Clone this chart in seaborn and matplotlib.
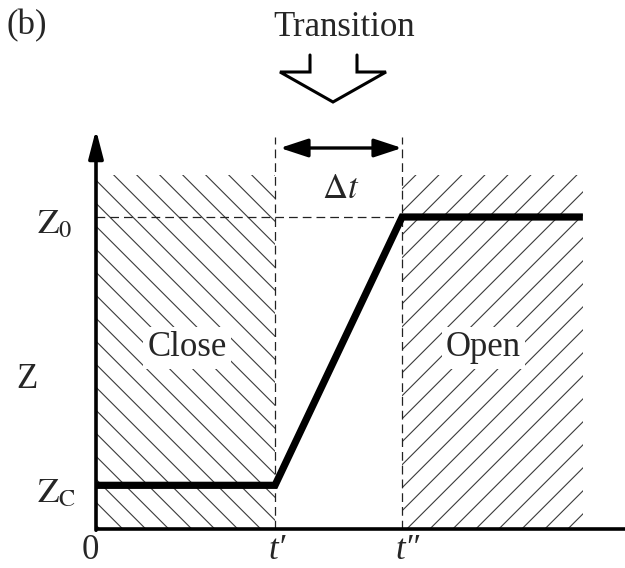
import numpy as np
import pandas as pd
import matplotlib
matplotlib.use("Agg")
import matplotlib.pyplot as plt
from matplotlib.patches import Rectangle
import seaborn as sns

# Switching profile: Z stays at the closed level Z_C until t', rises linearly
# during the transition window and holds at the open level Z_0 after t''.
t_points = [0.0, 1.0, 1.71, 2.72]        # 0, t', t'', end of record (units of t')
z_points = [0.14, 0.14, 1.0, 1.0]        # Z_C, Z_C, Z_0, Z_0 (units of Z_0)
t_labels = ["0", "t\u2032", "t\u2033"]
z_labels = [r"$\mathrm{Z}_0$", r"$\mathrm{Z}_\mathrm{C}$"]
region_labels = ["Close", "Open"]

T_PRIME, T_DPRIME, T_END = t_points[1], t_points[2], t_points[3]
Z_C, Z_0 = z_points[0], z_points[2]

# axis / hatch extents
T_AXIS_END = 2.96
Z_AXIS_END = 1.28
HATCH_TOP = 1.135

# pixel scale of one data unit (for 45-degree hatching and the figure layout)
SX, SY = 179.0, 312.0
W, H = 625, 568
X0_PX, Y0_PX = 96, 529

sns.set_theme(style="white")
plt.rcParams["font.family"] = ["Liberation Serif", "DejaVu Serif"]
plt.rcParams["mathtext.fontset"] = "stix"

fig = plt.figure(figsize=(W / 100, H / 100), dpi=100)
ax = fig.add_axes([0, 0, 1, 1])
ax.set_xlim(-X0_PX / SX, (W - X0_PX) / SX)
ax.set_ylim(-(H - Y0_PX) / SY, Y0_PX / SY)
ax.axis("off")


def px(x, y):
    """Figure pixel position (origin top-left) -> data coordinates."""
    return (x - X0_PX) / SX, (Y0_PX - y) / SY


def hatch(x0, x1, y0, y1, direction, spacing=23.0, phase=0.0):
    """Fill a rectangle with thin 45-degree lines, clipped to the rectangle."""
    rect = Rectangle((x0, y0), x1 - x0, y1 - y0, transform=ax.transData,
                     fill=False, lw=0)
    ax.add_patch(rect)
    u0, u1, v0, v1 = x0 * SX, x1 * SX, y0 * SY, y1 * SY
    span = (u1 - u0) + (v1 - v0)
    cs = np.arange(-span * 2, span * 2, spacing) + phase
    for c in cs:
        u = np.array([u0 - span, u1 + span])
        v = c - u if direction == "down" else c + u
        ln, = ax.plot(u / SX, v / SY, color="#3a3a3a", lw=0.8, zorder=1)
        ln.set_clip_path(rect)


hatch(0.0, T_PRIME, 0.0, HATCH_TOP, "down", phase=12)
hatch(T_DPRIME, T_END, 0.0, HATCH_TOP, "up", phase=0)

# dashed guides
dash = dict(color="#222222", lw=0.9, dashes=(7, 4), zorder=2)
ax.plot([T_PRIME, T_PRIME], [0, 1.256], **dash)
ax.plot([T_DPRIME, T_DPRIME], [0, 1.256], **dash)
ax.plot([0, T_DPRIME], [Z_0, Z_0], **dash)

# Z(t) profile
df = pd.DataFrame({"t": t_points, "Z": z_points})
sns.lineplot(data=df, x="t", y="Z", sort=False, color="black", lw=5.2,
             ax=ax, zorder=4, solid_joinstyle="miter", solid_capstyle="butt")

# axes
ax.plot([0, T_AXIS_END], [0, 0], color="black", lw=2.6, zorder=5,
        solid_capstyle="butt", clip_on=False)
ax.annotate("", xy=(0, Z_AXIS_END), xytext=(0, -0.004),
            arrowprops=dict(arrowstyle="-|>,head_length=0.85,head_width=0.22",
                            lw=2.6, color="black", shrinkA=0, shrinkB=0,
                            mutation_scale=20), zorder=5)

# transition window arrow
ya = px(0, 148)[1]
ax.annotate("", xy=(px(280, 0)[0], ya), xytext=(px(402, 0)[0], ya),
            arrowprops=dict(arrowstyle="<|-|>,head_length=0.85,head_width=0.28",
                            lw=2.4, color="black", shrinkA=0, shrinkB=0,
                            mutation_scale=20))

# hollow "Transition" arrow outline
outline = [(310, 55), (310, 72), (280, 72), (333, 102),
           (386, 72), (357, 72), (357, 55)]
ox, oy = zip(*[px(x, y) for x, y in outline])
ax.plot(ox, oy, color="black", lw=2.2, solid_joinstyle="miter",
        clip_on=False)

fs = 25
ax.text(*px(27, 26), "(b)", fontsize=fs, ha="center", va="center")
ax.text(*px(344, 28), "Transition", fontsize=fs, ha="center", va="center")
ax.text(*px(341, 190), r"$\Delta t$", fontsize=fs, ha="center", va="center")

# level labels
ax.text(px(37, 0)[0], px(0, 233)[1], z_labels[0], fontsize=fs, ha="left",
        va="baseline")
ax.text(px(37, 0)[0], px(0, 502)[1], z_labels[1], fontsize=fs, ha="left",
        va="baseline")
ax.text(*px(27, 380), "Z", fontsize=fs, ha="center", va="center")

# time labels along the axis
ax.text(px(90, 0)[0], px(0, 567)[1], t_labels[0], fontsize=fs, ha="center",
        va="bottom")
ax.text(T_PRIME + 0.01, px(0, 567)[1], t_labels[1], fontsize=fs, ha="center",
        va="bottom", fontstyle="italic")
ax.text(T_DPRIME + 0.03, px(0, 567)[1], t_labels[2], fontsize=fs, ha="center",
        va="bottom", fontstyle="italic")

# region labels
box = dict(facecolor="white", edgecolor="none", pad=3)
yl = px(0, 348)[1]
ax.text(T_PRIME / 2 + 0.01, yl, region_labels[0], fontsize=fs, ha="center",
        va="center", bbox=box, zorder=3)
ax.text((T_DPRIME + T_END) / 2 - 0.05, yl, region_labels[1], fontsize=fs,
        ha="center", va="center", bbox=box, zorder=3)

fig.savefig("out.png", dpi=100, facecolor="white")
